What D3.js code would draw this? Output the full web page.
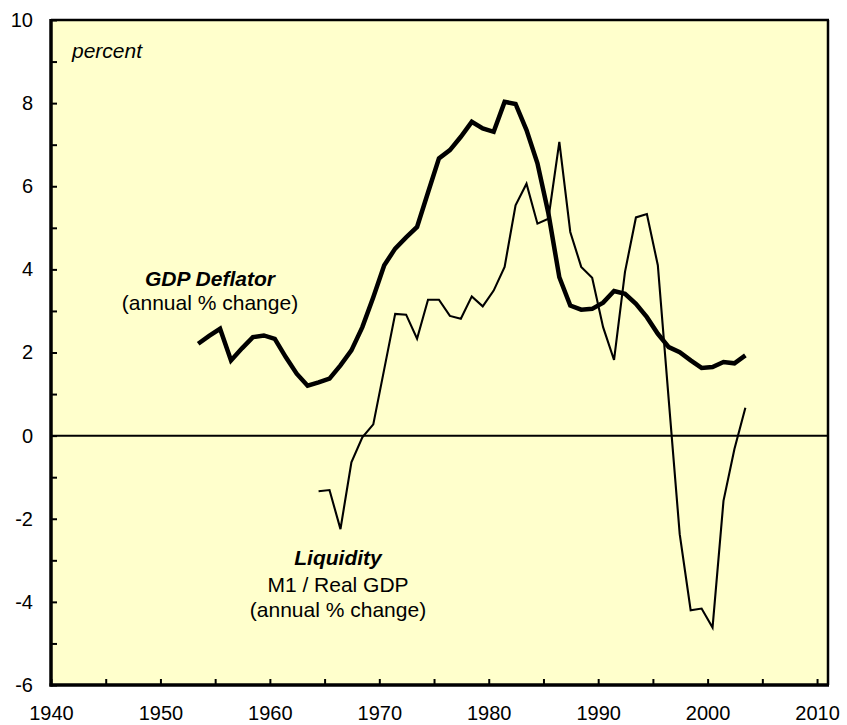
<!DOCTYPE html>
<html>
<head>
<meta charset="utf-8">
<script src="https://cdn.jsdelivr.net/npm/d3@7"></script>
<style>
  html, body { margin: 0; padding: 0; background: #ffffff; }
  svg { display: block; }
  text { font-family: "Liberation Sans", Arial, sans-serif; fill: #000; }
</style>
</head>
<body>
<script>
// ---------- data ----------
const gdpYears = d3.range(1953, 2004);
const gdpDeflator = [
  2.21, 2.40, 2.57, 1.81, 2.10, 2.37, 2.41, 2.33, 1.89, 1.49,
  1.20, 1.28, 1.37, 1.69, 2.05, 2.61, 3.33, 4.10, 4.50, 4.77,
  5.02, 5.85, 6.67, 6.87, 7.19, 7.55, 7.39, 7.31, 8.03, 7.98,
  7.35, 6.55, 5.35, 3.81, 3.13, 3.03, 3.05, 3.20, 3.48, 3.41,
  3.17, 2.85, 2.45, 2.13, 2.01, 1.81, 1.63, 1.65, 1.77, 1.74,
  1.93
];
const liqYears = d3.range(1964, 2004);
const liquidity = [
  -1.34, -1.31, -2.25, -0.64, -0.04, 0.27, 1.60, 2.93, 2.91, 2.33,
  3.27, 3.27, 2.88, 2.81, 3.35, 3.11, 3.49, 4.06, 5.54, 6.06,
  5.10, 5.22, 7.07, 4.90, 4.06, 3.80, 2.61, 1.82, 3.94, 5.25,
  5.33, 4.10, 0.85, -2.37, -4.20, -4.16, -4.62, -1.57, -0.32, 0.67
];
const yTickValues = d3.range(-6, 11, 1);
const yTickLabels = [-6, -4, -2, 0, 2, 4, 6, 8, 10];
const xTickValues = d3.range(1940, 2011, 5);
const xTickLabels = [1940, 1950, 1960, 1970, 1980, 1990, 2000, 2010];

// ---------- layout ----------
const W = 847, H = 725;
const L = 51, R = 828, T = 20, B = 685;
const svg = d3.select("body").append("svg").attr("width", W).attr("height", H);

const x = d3.scaleLinear().domain([1940, 2011]).range([L, R]);
const y = d3.scaleLinear().domain([-6, 10]).range([B, T]);
const xPos = yr => x(yr + 0.45);

// plot background
svg.append("rect").attr("x", L).attr("y", T).attr("width", R - L).attr("height", B - T)
  .attr("fill", "#FFFFCC");

// zero line
svg.append("line").attr("x1", L).attr("x2", R).attr("y1", y(0)).attr("y2", y(0))
  .attr("stroke", "#000").attr("stroke-width", 2);

// lines
const lineGen = d3.line().x(d => xPos(d[0])).y(d => y(d[1]));
svg.append("path")
  .datum(liqYears.map((yr, i) => [yr, liquidity[i]]))
  .attr("d", lineGen).attr("fill", "none").attr("stroke", "#000").attr("stroke-width", 2.1);
svg.append("path")
  .datum(gdpYears.map((yr, i) => [yr, gdpDeflator[i]]))
  .attr("d", lineGen).attr("fill", "none").attr("stroke", "#000").attr("stroke-width", 4.5);

// axes
const yAxis = d3.axisLeft(y).tickValues(yTickValues)
  .tickFormat(d => yTickLabels.includes(d) ? String(d) : "")
  .tickSizeInner(-6).tickSizeOuter(0).tickPadding(18);
const gy = svg.append("g").attr("transform", `translate(${L},0)`).call(yAxis);
gy.select(".domain").remove();
gy.selectAll(".tick line").attr("stroke", "#000").attr("stroke-width", 2);
gy.selectAll(".tick text").style("font-size", "20px").style("font-family", "'Liberation Sans', Arial, sans-serif");

const xAxis = d3.axisBottom(x).tickValues(xTickValues)
  .tickFormat(d => xTickLabels.includes(d) ? String(d) : "")
  .tickSizeInner(-6).tickSizeOuter(0).tickPadding(21);
const gx = svg.append("g").attr("transform", `translate(0,${B})`).call(xAxis);
gx.select(".domain").remove();
gx.selectAll(".tick line").attr("stroke", "#000").attr("stroke-width", 2);
gx.selectAll(".tick text").style("font-size", "20px").style("font-family", "'Liberation Sans', Arial, sans-serif");

// frame
svg.append("line").attr("x1", L).attr("x2", R + 1).attr("y1", T).attr("y2", T)
  .attr("stroke", "#000").attr("stroke-width", 2.5);
svg.append("line").attr("x1", R).attr("x2", R).attr("y1", T).attr("y2", B)
  .attr("stroke", "#000").attr("stroke-width", 2.5);
svg.append("line").attr("x1", L).attr("x2", L).attr("y1", T - 1).attr("y2", B + 1.5)
  .attr("stroke", "#000").attr("stroke-width", 3.5);
svg.append("line").attr("x1", L - 1.5).attr("x2", R + 1).attr("y1", B).attr("y2", B)
  .attr("stroke", "#000").attr("stroke-width", 3.5);

// annotations
svg.append("text").attr("x", 72).attr("y", 58).style("font-size", "21px")
  .style("font-style", "italic").text("percent");

svg.append("text").attr("x", 210).attr("y", 286).attr("text-anchor", "middle")
  .style("font-size", "21px").style("font-style", "italic").style("font-weight", "bold")
  .text("GDP Deflator");
svg.append("text").attr("x", 210).attr("y", 310).attr("text-anchor", "middle")
  .style("font-size", "21px").text("(annual % change)");

svg.append("text").attr("x", 338).attr("y", 565).attr("text-anchor", "middle")
  .style("font-size", "21px").style("font-style", "italic").style("font-weight", "bold")
  .text("Liquidity");
svg.append("text").attr("x", 338).attr("y", 592).attr("text-anchor", "middle")
  .style("font-size", "21px").text("M1 / Real GDP");
svg.append("text").attr("x", 338).attr("y", 617).attr("text-anchor", "middle")
  .style("font-size", "21px").text("(annual % change)");
</script>
</body>
</html>
